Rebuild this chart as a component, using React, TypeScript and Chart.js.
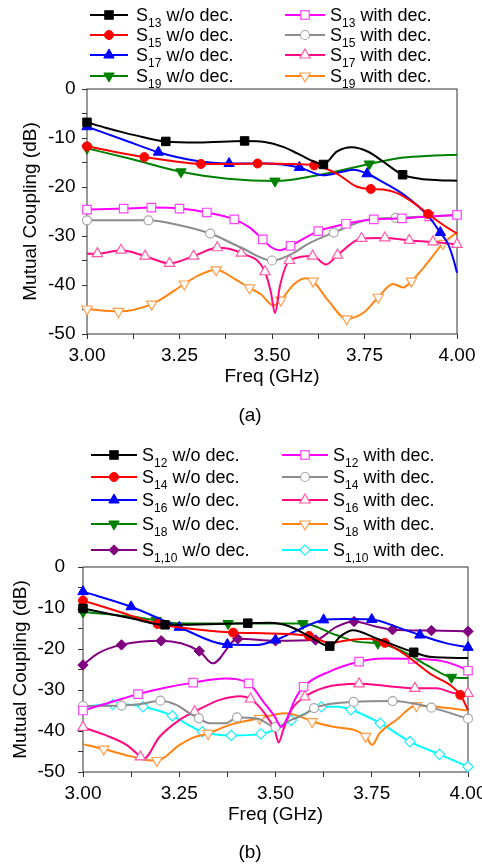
import React, { useEffect, useRef } from 'react';
import { Chart, registerables } from 'chart.js';

Chart.register(...registerables);

const FONT = '"Liberation Sans", Arial, Helvetica, sans-serif';

// ---------------- Chart (a) data ----------------
const a13woX = [3.0, 3.05, 3.1, 3.15, 3.213, 3.3, 3.426, 3.48, 3.53, 3.57, 3.61, 3.639, 3.675, 3.715, 3.76, 3.8, 3.853, 3.9, 3.95, 4.0];
const a13woY = [-6.8, -7.9, -8.9, -9.8, -10.7, -10.9, -10.6, -10.8, -11.8, -13.2, -14.7, -15.4, -12.8, -11.9, -12.8, -14.8, -17.5, -18.3, -18.6, -18.7];
const a13woM = [3.0, 3.213, 3.426, 3.639, 3.853];

const a15woX = [3.0, 3.08, 3.155, 3.23, 3.308, 3.38, 3.461, 3.54, 3.614, 3.674, 3.728, 3.767, 3.8, 3.837, 3.882, 3.922, 3.96, 4.0];
const a15woY = [-11.7, -12.9, -13.9, -14.7, -15.3, -15.3, -15.2, -15.3, -15.6, -17.2, -19.9, -20.4, -20.5, -21.2, -23.2, -25.5, -27.6, -29.5];
const a15woM = [3.0, 3.155, 3.308, 3.461, 3.614, 3.767, 3.922];

const a17woX = [3.0, 3.1, 3.193, 3.29, 3.384, 3.48, 3.574, 3.638, 3.69, 3.72, 3.757, 3.8, 3.855, 3.922, 3.955, 3.975, 3.989, 4.0];
const a17woY = [-7.7, -10.4, -12.9, -14.6, -15.2, -15.2, -16.0, -17.6, -16.9, -16.5, -17.3, -19.0, -21.5, -25.9, -29.3, -31.5, -34.4, -37.5];
const a17woM = [3.0, 3.193, 3.384, 3.574, 3.757, 3.955];

const a19woX = [3.0, 3.12, 3.254, 3.38, 3.508, 3.63, 3.763, 3.855, 3.93, 4.0];
const a19woY = [-12.1, -14.3, -16.9, -18.3, -18.8, -17.5, -15.3, -14.0, -13.6, -13.4];
const a19woM = [3.0, 3.254, 3.508, 3.763];

const a13wX = [3.0, 3.099, 3.174, 3.25, 3.324, 3.398, 3.44, 3.475, 3.5, 3.522, 3.55, 3.625, 3.7, 3.775, 3.851, 3.925, 4.0];
const a13wY = [-24.6, -24.4, -24.2, -24.4, -25.2, -26.6, -28.3, -30.7, -32.4, -32.9, -32.0, -29.0, -27.5, -26.6, -26.4, -26.0, -25.7];
const a13wM = [3.0, 3.099, 3.174, 3.25, 3.324, 3.398, 3.475, 3.55, 3.625, 3.7, 3.775, 3.851, 3.925, 4.0];

const a15wX = [3.0, 3.08, 3.166, 3.25, 3.333, 3.42, 3.5, 3.55, 3.6, 3.667, 3.764, 3.834, 3.92, 4.0];
const a15wY = [-26.8, -26.8, -26.8, -27.8, -29.5, -32.5, -35.0, -33.8, -31.5, -29.3, -26.6, -26.3, -26.0, -25.7];
const a15wM = [3.0, 3.166, 3.333, 3.5, 3.667, 3.834, 4.0];

const a17wX = [3.0, 3.028, 3.092, 3.157, 3.223, 3.288, 3.352, 3.417, 3.481, 3.497, 3.508, 3.522, 3.547, 3.61, 3.646, 3.677, 3.742, 3.805, 3.871, 3.935, 4.0];
const a17wY = [-33.6, -33.6, -32.9, -34.1, -35.6, -34.1, -32.4, -33.5, -37.3, -41.5, -45.7, -40.0, -35.0, -34.1, -35.8, -33.9, -30.5, -30.4, -30.9, -31.2, -31.7];
const a17wM = [3.028, 3.092, 3.157, 3.223, 3.288, 3.352, 3.417, 3.481, 3.547, 3.61, 3.677, 3.742, 3.805, 3.871, 3.935, 4.0];

const a19wX = [3.0, 3.085, 3.175, 3.263, 3.3, 3.349, 3.4, 3.439, 3.47, 3.504, 3.524, 3.56, 3.59, 3.611, 3.65, 3.702, 3.75, 3.787, 3.827, 3.855, 3.877, 3.92, 3.962, 4.0];
const a19wY = [-44.9, -45.4, -43.9, -39.8, -38.1, -36.9, -38.8, -40.6, -41.9, -44.2, -43.1, -39.8, -38.6, -39.2, -43.0, -46.9, -45.5, -42.5, -39.8, -40.5, -39.2, -35.5, -31.5, -29.3];
const a19wM = [3.0, 3.085, 3.175, 3.263, 3.349, 3.439, 3.524, 3.611, 3.702, 3.787, 3.877, 3.962];

// ---------------- Chart (b) data ----------------
const b12woX = [3.0, 3.06, 3.125, 3.213, 3.3, 3.428, 3.485, 3.537, 3.589, 3.641, 3.67, 3.701, 3.762, 3.859, 3.9, 4.0];
const b12woY = [-10.1, -11.3, -12.5, -14.1, -14.0, -13.7, -13.6, -14.5, -17.0, -19.3, -16.8, -15.4, -17.4, -20.8, -21.9, -22.2];
const b12woM = [3.0, 3.213, 3.428, 3.641, 3.859];

const b14woX = [3.0, 3.1, 3.194, 3.246, 3.39, 3.485, 3.587, 3.641, 3.693, 3.744, 3.784, 3.831, 3.9, 3.98, 4.0];
const b14woY = [-8.2, -11.1, -13.9, -14.7, -16.0, -16.2, -16.8, -18.5, -17.8, -17.5, -18.5, -21.0, -25.9, -31.2, -34.9];
const b14woM = [3.0, 3.194, 3.39, 3.587, 3.784, 3.98];

const b16woX = [3.0, 3.125, 3.25, 3.375, 3.454, 3.5, 3.56, 3.625, 3.68, 3.75, 3.814, 3.875, 3.94, 4.0];
const b16woY = [-6.0, -9.7, -14.7, -18.9, -19.0, -17.8, -15.3, -12.9, -12.7, -12.8, -14.6, -16.6, -18.5, -19.6];
const b16woM = [3.0, 3.125, 3.25, 3.375, 3.5, 3.625, 3.75, 3.875, 4.0];

const b18woX = [3.0, 3.125, 3.19, 3.246, 3.377, 3.48, 3.571, 3.658, 3.71, 3.766, 3.831, 3.9, 3.957, 4.0];
const b18woY = [-11.0, -12.1, -13.0, -13.7, -13.8, -13.8, -13.8, -16.6, -18.2, -18.6, -20.6, -24.3, -26.9, -27.1];
const b18woM = [3.0, 3.19, 3.377, 3.571, 3.766, 3.957];

const b110woX = [3.0, 3.038, 3.1, 3.203, 3.302, 3.337, 3.402, 3.5, 3.604, 3.658, 3.704, 3.76, 3.804, 3.905, 4.0];
const b110woY = [-23.9, -21.1, -19.0, -18.0, -20.5, -23.5, -17.5, -18.0, -17.8, -14.6, -13.3, -14.5, -15.3, -15.5, -15.7];
const b110woM = [3.0, 3.1, 3.203, 3.302, 3.402, 3.5, 3.604, 3.704, 3.804, 3.905, 4.0];

const b12wX = [3.0, 3.078, 3.143, 3.21, 3.286, 3.368, 3.43, 3.472, 3.498, 3.515, 3.532, 3.55, 3.573, 3.64, 3.717, 3.78, 3.857, 3.93, 3.97, 4.0];
const b12wY = [-35.0, -32.8, -31.0, -29.5, -28.2, -27.2, -28.4, -33.3, -36.5, -39.0, -36.5, -32.4, -29.2, -25.5, -23.1, -22.3, -22.4, -22.9, -24.0, -25.3];
const b12wM = [3.0, 3.143, 3.286, 3.43, 3.573, 3.717, 3.857, 4.0];

const b14wX = [3.0, 3.1, 3.15, 3.201, 3.244, 3.277, 3.301, 3.329, 3.372, 3.4, 3.454, 3.5, 3.541, 3.576, 3.6, 3.703, 3.804, 3.905, 4.0];
const b14wY = [-33.9, -33.8, -33.4, -32.6, -33.7, -35.7, -36.9, -38.1, -38.1, -36.7, -37.0, -39.0, -37.3, -35.9, -34.4, -32.9, -32.7, -34.3, -37.0];
const b14wM = [3.0, 3.1, 3.201, 3.301, 3.4, 3.5, 3.6, 3.703, 3.804, 3.905, 4.0];

const b16wX = [3.0, 3.055, 3.113, 3.149, 3.156, 3.199, 3.251, 3.29, 3.355, 3.41, 3.435, 3.472, 3.498, 3.508, 3.52, 3.541, 3.576, 3.628, 3.717, 3.788, 3.862, 3.918, 3.97, 4.0];
const b16wY = [-39.1, -40.9, -43.4, -46.3, -46.9, -41.4, -37.3, -35.3, -32.4, -31.5, -32.2, -35.7, -39.8, -42.8, -39.8, -34.9, -31.7, -29.4, -28.5, -29.0, -29.6, -29.6, -30.8, -30.8];
const b16wM = [3.0, 3.149, 3.29, 3.435, 3.576, 3.717, 3.862, 4.0];

const b18wX = [3.0, 3.054, 3.121, 3.178, 3.192, 3.251, 3.286, 3.325, 3.381, 3.459, 3.524, 3.576, 3.595, 3.654, 3.706, 3.734, 3.751, 3.77, 3.814, 3.866, 3.918, 4.0];
const b18wY = [-43.2, -44.4, -46.1, -47.2, -47.2, -43.4, -41.6, -40.6, -38.5, -36.9, -35.7, -36.9, -37.7, -39.0, -39.8, -41.3, -43.4, -40.6, -37.3, -33.8, -34.1, -35.0];
const b18wM = [3.054, 3.192, 3.325, 3.459, 3.595, 3.734, 3.866];

const b110wX = [3.0, 3.078, 3.156, 3.232, 3.27, 3.31, 3.385, 3.462, 3.502, 3.541, 3.585, 3.619, 3.66, 3.696, 3.772, 3.849, 3.926, 4.0];
const b110wY = [-34.1, -33.5, -34.1, -36.3, -38.3, -40.2, -41.1, -40.7, -39.6, -37.4, -35.4, -34.1, -34.1, -34.8, -38.1, -42.6, -45.7, -48.7];
const b110wM = [3.0, 3.078, 3.156, 3.232, 3.31, 3.385, 3.462, 3.541, 3.619, 3.696, 3.772, 3.849, 3.926, 4.0];

// axis texts
const X_TITLE = 'Freq (GHz)';
const Y_TITLE = 'Mutual Coupling (dB)';

type Kind = 'square' | 'circle' | 'tri' | 'itri' | 'diamond';
interface Series {
  sub: string;
  tag: string;
  xs: number[];
  ys: number[];
  marks: number[];
  color: string;
  mcolor: string;
  kind: Kind;
  filled: boolean;
}

const S = (sub: string, tag: string, xs: number[], ys: number[], marks: number[], color: string, kind: Kind, filled: boolean, mcolor?: string): Series =>
  ({ sub, tag, xs, ys, marks, color, kind, filled, mcolor: mcolor || color });

const BLACK = '#000000', RED = '#FF0000', BLUE = '#0000FF', GREEN = '#008000', PURPLE = '#800080';
const MAGENTA = '#FF00FF', GRAY = '#8C8C8C', PINK = '#FF0A84', ORANGE = '#FF8412', CYAN = '#00FFFF';

const seriesA: Series[] = [
  S('13', 'w/o dec.', a13woX, a13woY, a13woM, BLACK, 'square', true),
  S('15', 'w/o dec.', a15woX, a15woY, a15woM, RED, 'circle', true),
  S('17', 'w/o dec.', a17woX, a17woY, a17woM, BLUE, 'tri', true),
  S('19', 'w/o dec.', a19woX, a19woY, a19woM, GREEN, 'itri', true),
  S('13', 'with dec.', a13wX, a13wY, a13wM, MAGENTA, 'square', false, '#FF44FF'),
  S('15', 'with dec.', a15wX, a15wY, a15wM, GRAY, 'circle', false, '#A8A8A8'),
  S('17', 'with dec.', a17wX, a17wY, a17wM, PINK, 'tri', false, '#FF5AAA'),
  S('19', 'with dec.', a19wX, a19wY, a19wM, ORANGE, 'itri', false, '#FFA050'),
];

const seriesB: Series[] = [
  S('12', 'w/o dec.', b12woX, b12woY, b12woM, BLACK, 'square', true),
  S('14', 'w/o dec.', b14woX, b14woY, b14woM, RED, 'circle', true),
  S('16', 'w/o dec.', b16woX, b16woY, b16woM, BLUE, 'tri', true),
  S('18', 'w/o dec.', b18woX, b18woY, b18woM, GREEN, 'itri', true),
  S('1,10', 'w/o dec.', b110woX, b110woY, b110woM, PURPLE, 'diamond', true),
  S('12', 'with dec.', b12wX, b12wY, b12wM, MAGENTA, 'square', false, '#FF44FF'),
  S('14', 'with dec.', b14wX, b14wY, b14wM, GRAY, 'circle', false, '#A8A8A8'),
  S('16', 'with dec.', b16wX, b16wY, b16wM, PINK, 'tri', false, '#FF5AAA'),
  S('18', 'with dec.', b18wX, b18wY, b18wM, ORANGE, 'itri', false, '#FFA050'),
  S('1,10', 'with dec.', b110wX, b110wY, b110wM, CYAN, 'diamond', false, '#22EEFF'),
];

const RADIUS: Record<Kind, number> = { square: 6, circle: 4.5, tri: 6, itri: 6, diamond: 5.2 };
const STYLE: Record<Kind, string> = { square: 'rect', circle: 'circle', tri: 'triangle', itri: 'triangle', diamond: 'rectRot' };

const boxPlugin = {
  id: 'plotBox',
  beforeDatasetsDraw(chart: any) {
    const { ctx, chartArea: a } = chart;
    ctx.save();
    ctx.strokeStyle = '#333';
    ctx.lineWidth = 1;
    ctx.strokeRect(a.left, a.top, a.right - a.left, a.bottom - a.top);
    ctx.restore();
  },
};

interface Geom {
  top: number;
  w: number;
  h: number;
  padTop: number;
  padRight: number;
  padBottom: number;
  yW: number;
  yTickPad: number;
  yTitlePad: number;
}

function PlotCanvas({ series, g }: { series: Series[]; g: Geom }) {
  const ref = useRef<HTMLCanvasElement>(null);
  useEffect(() => {
    const datasets = series.map((s) => ({
      label: 'S' + s.sub + ' ' + s.tag,
      data: s.xs.map((x, i) => ({ x, y: s.ys[i] })),
      borderColor: s.color,
      backgroundColor: s.color,
      borderWidth: 2,
      cubicInterpolationMode: 'monotone',
      fill: false,
      clip: false,
      pointStyle: STYLE[s.kind],
      pointRotation: s.kind === 'itri' ? 180 : 0,
      pointRadius: (ctx: any) => {
        const raw = ctx.raw;
        if (!raw) return 0;
        return s.marks.some((m) => Math.abs(m - raw.x) < 1e-9) ? RADIUS[s.kind] : 0;
      },
      pointHoverRadius: 0,
      pointBackgroundColor: s.filled ? s.color : '#FFFFFF',
      pointBorderColor: s.mcolor,
      pointBorderWidth: s.filled ? 1 : 1.2,
    }));
    const tickFont = { family: FONT, size: 19 };
    const chart = new Chart(ref.current as HTMLCanvasElement, {
      type: 'line',
      data: { datasets } as any,
      plugins: [boxPlugin],
      options: {
        animation: false,
        responsive: false,
        events: [],
        layout: { padding: { top: g.padTop, right: g.padRight, bottom: g.padBottom, left: 0 } },
        plugins: { legend: { display: false }, tooltip: { enabled: false } },
        scales: {
          x: {
            type: 'linear',
            min: 3,
            max: 4,
            afterFit: (sc: any) => { sc.height = 60; },
            ticks: {
              stepSize: 0.125,
              autoSkip: false,
              maxRotation: 0,
              padding: 5,
              color: '#000',
              font: tickFont,
              callback: (v: any) => {
                const q = Number(v) * 4;
                return Math.abs(q - Math.round(q)) < 1e-6 ? Number(v).toFixed(2) : '';
              },
            },
            grid: { drawOnChartArea: false, drawTicks: true, tickLength: 5, color: '#333' },
            border: { display: false },
            title: { display: true, text: X_TITLE, color: '#000', font: tickFont, padding: { top: 0, bottom: 5.6 } },
          },
          y: {
            type: 'linear',
            min: -50,
            max: 0,
            afterFit: (sc: any) => { sc.width = g.yW; },
            ticks: {
              stepSize: 5,
              autoSkip: false,
              padding: g.yTickPad,
              color: '#000',
              font: tickFont,
              callback: (v: any) => (Number(v) % 10 === 0 ? String(v) : ''),
            },
            grid: { drawOnChartArea: false, drawTicks: true, tickLength: 5, color: '#333' },
            border: { display: false },
            title: { display: true, text: Y_TITLE, color: '#000', font: tickFont, padding: { top: g.yTitlePad, bottom: 0 } },
          },
        },
      } as any,
    });
    return () => chart.destroy();
  }, []);
  return (
    <canvas
      ref={ref}
      width={g.w}
      height={g.h}
      style={{ position: 'absolute', left: 0, top: g.top, width: g.w, height: g.h }}
    />
  );
}

function Marker({ kind, filled, color, cx, cy }: { kind: Kind; filled: boolean; color: string; cx: number; cy: number }) {
  const r = RADIUS[kind];
  const fill = filled ? color : '#FFFFFF';
  const sw = filled ? 1 : 1.2;
  if (kind === 'square') {
    const h = r * Math.SQRT1_2;
    return <rect x={cx - h} y={cy - h} width={2 * h} height={2 * h} fill={fill} stroke={color} strokeWidth={sw} />;
  }
  if (kind === 'circle') return <circle cx={cx} cy={cy} r={r} fill={fill} stroke={color} strokeWidth={sw} />;
  let pts: number[][];
  if (kind === 'tri') pts = [[0, -r], [0.866 * r, 0.5 * r], [-0.866 * r, 0.5 * r]];
  else if (kind === 'itri') pts = [[0, r], [0.866 * r, -0.5 * r], [-0.866 * r, -0.5 * r]];
  else pts = [[0, -r], [r, 0], [0, r], [-r, 0]];
  return <polygon points={pts.map((p) => `${cx + p[0]},${cy + p[1]}`).join(' ')} fill={fill} stroke={color} strokeWidth={sw} />;
}

function LegendItem({ s, x1, x2, tx, y }: { s: Series; x1: number; x2: number; tx: number; y: number }) {
  const w = x2 - x1;
  return (
    <>
      <svg style={{ position: 'absolute', left: x1, top: y - 8 }} width={w} height={16}>
        <line x1={0} y1={8} x2={w} y2={8} stroke={s.color} strokeWidth={2} />
        <Marker kind={s.kind} filled={s.filled} color={s.mcolor} cx={w / 2} cy={8} />
      </svg>
      <div
        style={{
          position: 'absolute',
          left: tx,
          top: y - 12,
          height: 24,
          lineHeight: '24px',
          fontSize: 18,
          whiteSpace: 'nowrap',
          color: '#000',
        }}
      >
        S<span style={{ fontSize: 12, position: 'relative', top: 6 }}>{s.sub}</span> {s.tag}
      </div>
    </>
  );
}

const geomA: Geom = { top: 0, w: 482, h: 400, padTop: 89, padRight: 25, padBottom: 6, yW: 87, yTickPad: 6.5, yTitlePad: 19.6 };
const geomB: Geom = { top: 430, w: 520, h: 435, padTop: 137, padRight: 52, padBottom: 33, yW: 83, yTickPad: 13, yTitlePad: 9.6 };

const rowsA = [14.5, 34.5, 55, 75.5];
const rowsB = [454.5, 477, 500, 523.5, 550];

export default function App() {
  const leftA = seriesA.slice(0, 4), rightA = seriesA.slice(4);
  const leftB = seriesB.slice(0, 5), rightB = seriesB.slice(5);
  return (
    <div
      style={{
        position: 'absolute',
        left: 0,
        top: 0,
        width: 482,
        height: 865,
        overflow: 'hidden',
        background: '#fff',
        fontFamily: FONT,
      }}
    >
      <PlotCanvas series={seriesA} g={geomA} />
      <PlotCanvas series={seriesB} g={geomB} />
      {leftA.map((s, i) => <LegendItem key={'la' + i} s={s} x1={90} x2={128} tx={136} y={rowsA[i]} />)}
      {rightA.map((s, i) => <LegendItem key={'ra' + i} s={s} x1={285} x2={325} tx={330} y={rowsA[i]} />)}
      {leftB.map((s, i) => <LegendItem key={'lb' + i} s={s} x1={91} x2={137} tx={142} y={rowsB[i]} />)}
      {rightB.map((s, i) => <LegendItem key={'rb' + i} s={s} x1={282} x2={328} tx={333} y={rowsB[i]} />)}
      <div style={{ position: 'absolute', left: 200, width: 100, top: 403, textAlign: 'center', fontSize: 19, lineHeight: '24px' }}>(a)</div>
      <div style={{ position: 'absolute', left: 200, width: 100, top: 840, textAlign: 'center', fontSize: 19, lineHeight: '24px' }}>(b)</div>
    </div>
  );
}
